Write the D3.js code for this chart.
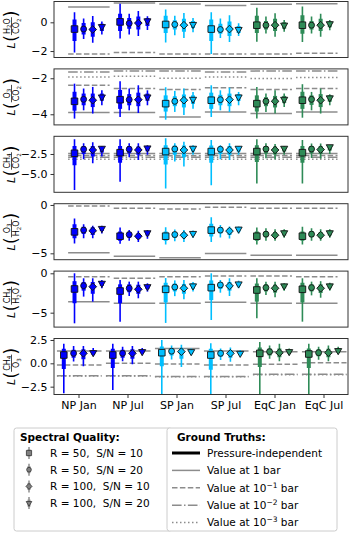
<!DOCTYPE html>
<html><head><meta charset="utf-8">
<script src="https://cdn.jsdelivr.net/npm/d3@7"></script>
<style>
body{margin:0;background:#fff;}
svg{display:block;font-family:"DejaVu Sans",sans-serif;}
</style></head><body>
<svg id="c" width="350" height="533"></svg>
<script>
// ---------------- DATA ----------------
const locations = ["NP Jan","NP Jul","SP Jan","SP Jul","EqC Jan","EqC Jul"];
const locColors = ["#0000ff","#0000ff","#00bfff","#00bfff","#2e8b57","#2e8b57"];
const qualityLabels = ["R = 50,  S/N = 10","R = 50,  S/N = 20","R = 100,  S/N = 10","R = 100,  S/N = 20"];
const qualityShapes = ["square","circle","diamond","triangle"];
const truthLabels = ["Pressure-independent","Value at 1 bar","Value at 10|−1| bar","Value at 10|−2| bar","Value at 10|−3| bar"];

// each marker: [outerLow, innerLow, median, innerHigh, outerHigh]
const r_H2O_CO2 = [
 [[-2.1,-1.3,-0.47,0.2,0.7],[-1.16,-0.85,-0.47,-0.05,0.26],[-1.42,-1.0,-0.5,0.0,0.44],[-0.84,-0.6,-0.3,-0.1,0.05]],
 [[-1.12,-0.6,0.03,0.6,1.3],[-0.84,-0.45,-0.07,0.3,0.6],[-0.95,-0.5,-0.05,0.4,0.78],[-0.53,-0.25,0.1,0.3,0.43]],
 [[-1.4,-0.75,-0.15,0.45,0.9],[-0.9,-0.5,-0.15,0.15,0.45],[-1.1,-0.65,-0.2,0.25,0.65],[-0.7,-0.4,-0.15,0.1,0.3]],
 [[-2.2,-1.3,-0.47,0.2,0.7],[-1.1,-0.8,-0.5,-0.1,0.26],[-1.37,-0.95,-0.47,0.05,0.5],[-0.95,-0.75,-0.5,-0.25,-0.07]],
 [[-1.35,-0.75,-0.2,0.45,1.02],[-0.77,-0.5,-0.2,0.1,0.4],[-1.0,-0.6,-0.2,0.25,0.63],[-0.65,-0.45,-0.2,0.0,0.16]],
 [[-1.37,-0.8,-0.2,0.5,1.1],[-0.77,-0.5,-0.2,0.1,0.4],[-1.0,-0.6,-0.2,0.25,0.6],[-0.55,-0.35,-0.1,0.05,0.16]]
];
const r_O3_CO2 = [
 [[-4.24,-3.8,-3.28,-2.75,-2.3],[-3.78,-3.5,-3.17,-2.85,-2.57],[-3.96,-3.6,-3.22,-2.85,-2.48],[-3.5,-3.25,-3.04,-2.85,-2.67]],
 [[-4.15,-3.7,-3.19,-2.65,-2.17],[-3.78,-3.5,-3.19,-2.88,-2.57],[-3.93,-3.55,-3.19,-2.8,-2.39],[-3.5,-3.25,-3.04,-2.85,-2.67]],
 [[-4.3,-3.85,-3.41,-2.95,-2.5],[-3.87,-3.55,-3.28,-3.0,-2.7],[-4.04,-3.62,-3.22,-2.9,-2.57],[-3.69,-3.42,-3.17,-2.95,-2.76]],
 [[-4.15,-3.7,-3.22,-2.8,-2.39],[-3.78,-3.5,-3.19,-2.92,-2.67],[-3.87,-3.55,-3.19,-2.85,-2.52],[-3.5,-3.25,-3.04,-2.88,-2.76]],
 [[-4.24,-3.85,-3.41,-2.95,-2.48],[-3.87,-3.55,-3.28,-3.05,-2.85],[-3.96,-3.62,-3.28,-2.98,-2.67],[-3.59,-3.38,-3.17,-2.98,-2.85]],
 [[-4.19,-3.7,-3.22,-2.75,-2.33],[-3.78,-3.48,-3.17,-2.95,-2.76],[-3.96,-3.6,-3.22,-2.88,-2.57],[-3.5,-3.3,-3.09,-2.95,-2.89]]
];
const r_CH4_CO2 = [
 [[-7.0,-3.9,-2.41,-1.5,-0.66],[-3.16,-2.5,-1.91,-1.5,-1.16],[-3.66,-2.8,-2.0,-1.5,-1.04],[-2.83,-2.3,-1.79,-1.6,-1.5]],
 [[-5.96,-3.6,-2.34,-1.5,-0.66],[-2.91,-2.4,-1.91,-1.5,-1.16],[-3.25,-2.6,-2.0,-1.55,-1.16],[-2.6,-2.15,-1.75,-1.55,-1.4]],
 [[-6.8,-3.8,-2.2,-1.4,-0.54],[-3.45,-2.6,-1.88,-1.45,-1.16],[-4.08,-2.9,-2.0,-1.45,-0.96],[-2.6,-2.2,-1.79,-1.55,-1.4]],
 [[-6.4,-3.6,-2.2,-1.45,-0.75],[-3.16,-2.5,-1.91,-1.6,-1.4],[-3.25,-2.6,-2.0,-1.5,-1.16],[-2.6,-2.2,-1.79,-1.6,-1.5]],
 [[-6.2,-3.5,-2.2,-1.4,-0.66],[-3.04,-2.45,-1.88,-1.5,-1.16],[-3.16,-2.55,-2.0,-1.55,-1.25],[-2.6,-2.2,-1.79,-1.6,-1.5]],
 [[-6.2,-3.6,-2.34,-1.5,-0.75],[-3.0,-2.4,-1.88,-1.5,-1.2],[-3.1,-2.5,-1.95,-1.5,-1.2],[-2.5,-2.05,-1.6,-1.45,-1.4]]
];
const r_O3_H2O = [
 [[-3.99,-3.45,-2.78,-2.0,-1.39],[-3.45,-3.0,-2.6,-2.25,-2.0],[-3.45,-3.1,-2.67,-2.3,-2.15],[-2.95,-2.7,-2.43,-2.25,-2.15]],
 [[-4.0,-3.7,-3.23,-2.75,-2.33],[-3.7,-3.4,-3.06,-2.8,-2.6],[-3.82,-3.5,-3.23,-2.95,-2.67],[-3.5,-3.15,-2.88,-2.7,-2.6]],
 [[-4.1,-3.7,-3.23,-2.75,-2.3],[-3.75,-3.4,-3.06,-2.8,-2.55],[-3.82,-3.45,-3.13,-2.85,-2.6],[-3.4,-3.15,-2.95,-2.78,-2.65]],
 [[-3.82,-3.25,-2.6,-1.95,-1.28],[-3.37,-2.95,-2.6,-2.3,-2.08],[-3.47,-3.1,-2.7,-2.4,-2.23],[-2.95,-2.75,-2.5,-2.33,-2.23]],
 [[-4.08,-3.7,-3.23,-2.75,-2.33],[-3.7,-3.35,-3.02,-2.7,-2.4],[-3.7,-3.4,-3.13,-2.8,-2.5],[-3.4,-3.15,-2.88,-2.65,-2.5]],
 [[-4.08,-3.7,-3.23,-2.75,-2.26],[-3.7,-3.35,-3.02,-2.7,-2.4],[-3.7,-3.4,-3.13,-2.8,-2.5],[-3.4,-3.15,-2.88,-2.65,-2.5]]
];
const r_CH4_H2O = [
 [[-6.35,-3.8,-1.99,-1.0,0.0],[-2.96,-2.2,-1.57,-1.1,-0.63],[-3.6,-2.6,-1.7,-1.1,-0.63],[-1.9,-1.6,-1.27,-1.0,-0.85]],
 [[-6.14,-3.8,-2.25,-1.4,-0.85],[-2.88,-2.4,-1.9,-1.4,-1.06],[-3.17,-2.6,-2.03,-1.45,-1.06],[-2.33,-2.0,-1.7,-1.45,-1.27]],
 [[-6.3,-3.7,-2.03,-1.2,-0.6],[-2.9,-2.3,-1.75,-1.3,-0.9],[-3.3,-2.6,-1.9,-1.35,-0.85],[-2.3,-1.95,-1.6,-1.3,-1.1]],
 [[-5.93,-3.4,-1.82,-0.9,0.0],[-2.46,-2.0,-1.48,-1.1,-0.85],[-2.88,-2.2,-1.6,-1.1,-0.63],[-1.9,-1.65,-1.35,-1.1,-0.93]],
 [[-5.71,-3.6,-2.12,-1.3,-0.63],[-2.75,-2.3,-1.82,-1.4,-1.06],[-3.03,-2.45,-1.9,-1.45,-1.06],[-2.2,-1.9,-1.6,-1.4,-1.27]],
 [[-6.14,-3.7,-2.03,-1.2,-0.63],[-2.8,-2.3,-1.82,-1.4,-1.06],[-3.1,-2.5,-1.9,-1.4,-1.0],[-2.2,-1.9,-1.6,-1.35,-1.2]]
];
const r_CH4_O3 = [
 [[-3.2,-0.6,0.89,1.55,2.1],[0.2,0.6,1.07,1.45,1.85],[-0.3,0.45,1.07,1.5,1.85],[0.85,0.95,1.14,1.4,1.64]],
 [[-2.86,-0.5,0.89,1.55,2.1],[0.21,0.6,1.07,1.45,1.78],[-0.11,0.5,1.07,1.5,1.85],[1.03,1.1,1.25,1.45,1.64]],
 [[-3.4,-0.3,1.14,1.8,2.5],[0.4,0.85,1.3,1.6,1.9],[-0.4,0.5,1.25,1.65,2.0],[0.9,1.05,1.25,1.45,1.6]],
 [[-3.5,-0.7,0.89,1.55,2.15],[0.36,0.7,1.07,1.35,1.6],[0.18,0.6,1.07,1.4,1.7],[0.89,0.95,1.07,1.25,1.43]],
 [[-3.4,-0.4,1.07,1.7,2.28],[0.5,0.85,1.25,1.6,1.92],[0.21,0.65,1.14,1.6,2.1],[0.93,1.05,1.25,1.45,1.6]],
 [[-3.4,-0.5,1.0,1.6,2.1],[0.39,0.75,1.14,1.5,1.78],[0.21,0.65,1.14,1.55,1.92],[1.07,1.15,1.36,1.55,1.78]]
];

// ground truths per location: value at 1 bar, 0.1 bar, 0.01 bar, 0.001 bar (null = not shown)
const gt_H2O_CO2 = {p1:[1.07,1.35,1.27,1.18,1.25,1.3], p01:[-2.2,-2.1,-2.2,-2.2,-2.2,-2.15], p001:[null,null,null,null,null,null], p0001:[null,null,null,null,null,null]};
const gt_O3_CO2  = {p1:[-3.9,-3.9,-4.15,-3.87,-3.96,-3.87], p01:[-2.39,-2.57,-2.63,-2.52,-2.63,-2.57], p001:[-1.65,-1.6,-1.6,-1.65,-1.6,-1.6], p0001:[-1.93,-1.89,-2.0,-1.93,-2.02,-1.96]};
const gt_CH4_CO2 = {p1:[-2.45,-2.45,-2.45,-2.45,-2.45,-2.45], p01:[-2.7,-2.7,-2.72,-2.7,-2.7,-2.7], p001:[-2.9,-2.9,-2.92,-2.9,-2.9,-2.9], p0001:[-3.15,-3.15,-3.17,-3.15,-3.15,-3.15]};
const gt_O3_H2O  = {p1:[-4.93,-5.3,-5.45,-5.03,-5.2,-5.2], p01:[-0.1,-0.35,-0.42,-0.24,-0.35,-0.35], p001:[null,null,null,null,null,null], p0001:[null,null,null,null,null,null]};
const gt_CH4_H2O = {p1:[-3.6,-3.8,-3.8,-3.68,-3.8,-3.8], p01:[-0.43,-0.63,-0.43,-0.34,-0.34,-0.43], p001:[null,null,null,null,null,null], p0001:[null,null,null,null,null,null]};
const gt_CH4_O3  = {p1:[1.32,1.32,1.6,1.32,1.25,1.25], p01:[-0.18,0.0,-0.07,-0.18,-0.1,0.07], p001:[-1.32,-1.32,-1.4,-1.4,-1.18,-1.18], p0001:[-1.36,-1.36,-1.44,-1.44,-1.22,-1.22]};

const ticks_H2O_CO2 = [-2,0];
const ticks_O3_CO2 = [-4,-2];
const ticks_CH4_CO2 = [-5,-2.5];
const ticks_O3_H2O = [-5,0];
const ticks_CH4_H2O = [-5,0];
const ticks_CH4_O3 = [-2.5,0,2.5];

// ---------------- LAYOUT ----------------
const plotLeft = 54, plotRight = 348;
const panelTop0 = 1.5, panelStep = 67.4, panelH = 56;
const qualityOffsets = [-0.3,-0.1,0.1,0.3];
const gtColor = "#8c8c8c";
const gtStyles = [
  {key:"p1", dash:null},
  {key:"p01", dash:"5.5,2.4"},
  {key:"p001", dash:"9.6,2.4,1.5,2.4"},
  {key:"p0001", dash:"1.5,2.5"}
];

const panels = [
 {data:r_H2O_CO2, gt:gt_H2O_CO2, ticks:ticks_H2O_CO2, dom:[-2.45,1.45], fmt:".0f", num:"H2O", den:"CO2", xdom:[-0.75,5.7]},
 {data:r_O3_CO2, gt:gt_O3_CO2, ticks:ticks_O3_CO2, dom:[-4.59,-1.48], fmt:".0f", num:"O3", den:"CO2", xdom:[-0.75,5.7]},
 {data:r_CH4_CO2, gt:gt_CH4_CO2, ticks:ticks_CH4_CO2, dom:[-7.29,-0.29], fmt:".1f", num:"CH4", den:"CO2", xdom:[-0.75,5.7]},
 {data:r_O3_H2O, gt:gt_O3_H2O, ticks:ticks_O3_H2O, dom:[-5.66,0.13], fmt:".0f", num:"O3", den:"H2O", xdom:[-0.75,5.7]},
 {data:r_CH4_H2O, gt:gt_CH4_H2O, ticks:ticks_CH4_H2O, dom:[-6.83,0.28], fmt:".0f", num:"CH4", den:"H2O", xdom:[-0.75,5.7]},
 {data:r_CH4_O3, gt:gt_CH4_O3, ticks:ticks_CH4_O3, dom:[-3.34,2.66], fmt:".1f", num:"CH4", den:"O3", xdom:[-0.5,5.5]}
];

const svg = d3.select("#c");
svg.append("rect").attr("width",350).attr("height",533).attr("fill","#fff");

function markerPath(shape, s){
  if(shape==="square") return d3.symbol(d3.symbolSquare, s*s)();
  if(shape==="circle") return d3.symbol(d3.symbolCircle, Math.PI*(s*0.45)*(s*0.45))();
  if(shape==="diamond") return d3.symbol(d3.symbolSquare, (s*0.82)*(s*0.82))();
  return d3.symbol(d3.symbolTriangle, s*s*0.5)();
}
function markerTransform(shape,x,y){
  if(shape==="diamond") return `translate(${x},${y}) rotate(45)`;
  if(shape==="triangle") return `translate(${x},${y}) rotate(180)`;
  return `translate(${x},${y})`;
}

function chemText(parent, formula, size, x, y){
  const t = parent.append("text").attr("font-size",size).attr("x",x).attr("y",y);
  let sub=false;
  for(const ch of formula){
    const isDigit = /\d/.test(ch);
    const ts = t.append("tspan").text(ch);
    if(isDigit && !sub){ ts.attr("font-size",size*0.7).attr("dy",size*0.22); sub=true; }
    else if(!isDigit && sub){ ts.attr("dy",-size*0.22); sub=false; }
    else if(isDigit){ ts.attr("font-size",size*0.7); }
  }
  return t;
}

panels.forEach((p,i)=>{
  const top = panelTop0 + i*panelStep, bot = top + panelH;
  const y = d3.scaleLinear().domain(p.dom).range([bot, top]);
  const x = d3.scaleLinear().domain(p.xdom).range([plotLeft, plotRight]);
  const clipId = "clip"+i;
  svg.append("clipPath").attr("id",clipId).append("rect")
    .attr("x",plotLeft).attr("y",top).attr("width",plotRight-plotLeft).attr("height",panelH);
  const g = svg.append("g").attr("clip-path",`url(#${clipId})`);

  gtStyles.forEach(st=>{
    p.gt[st.key].forEach((v,li)=>{
      if(v===null) return;
      const ln = g.append("line")
        .attr("x1",x(li-0.44)).attr("x2",x(li+0.47))
        .attr("y1",y(v)).attr("y2",y(v))
        .attr("stroke",gtColor).attr("stroke-width",1.5);
      if(st.dash) ln.attr("stroke-dasharray",st.dash);
    });
  });

  p.data.forEach((loc,li)=>{
    loc.forEach((q,qi)=>{
      const cx = x(li+qualityOffsets[qi]);
      const col = locColors[li];
      g.append("line").attr("x1",cx).attr("x2",cx).attr("y1",y(q[0])).attr("y2",y(q[4]))
        .attr("stroke",col).attr("stroke-width",1.6);
      g.append("line").attr("x1",cx).attr("x2",cx).attr("y1",y(q[1])).attr("y2",y(q[3]))
        .attr("stroke",col).attr("stroke-width",4);
      const shape = qualityShapes[qi];
      g.append("path").attr("d",markerPath(shape,6.6))
        .attr("transform",markerTransform(shape,cx,y(q[2])))
        .attr("fill",col).attr("stroke","#111").attr("stroke-width",0.9);
    });
  });

  svg.append("rect").attr("x",plotLeft).attr("y",top).attr("width",plotRight-plotLeft).attr("height",panelH)
    .attr("fill","none").attr("stroke","#333").attr("stroke-width",1);

  const ax = svg.append("g").attr("transform",`translate(${plotLeft},0)`)
    .call(d3.axisLeft(y).tickValues(p.ticks).tickFormat(d3.format(p.fmt)).tickSize(3.5).tickPadding(3));
  ax.select(".domain").remove();
  ax.selectAll("line").attr("stroke","#333");
  ax.selectAll("text").attr("font-size",11).attr("font-family","DejaVu Sans").attr("fill","#000");

  // y label  L( num / den )
  const cyL = (top+bot)/2, cxL = 11.5;
  const lg = svg.append("g").attr("transform",`translate(${cxL},${cyL}) rotate(-90)`);
  const L = lg.append("text").attr("font-size",11).attr("font-style","italic").text("L");
  const wL = L.node().getComputedTextLength();
  const lp = lg.append("text").attr("font-size",17).text("(");
  const wP = lp.node().getComputedTextLength();
  const nt = chemText(lg, p.num, 8, 0, -1.8);
  const dt = chemText(lg, p.den, 8, 0, 7.6);
  const wn = nt.node().getComputedTextLength(), wd = dt.node().getComputedTextLength();
  const wf = Math.max(wn,wd)+2;
  const total = wL+0.5+wP+wf+wP;
  const x0 = -total/2;
  L.attr("x",x0).attr("y",3.6);
  lp.attr("x",x0+wL+0.5).attr("y",5.6);
  const mid = x0+wL+0.5+wP+wf/2;
  nt.attr("x",mid-wn/2);
  dt.attr("x",mid-wd/2);
  lg.append("line").attr("x1",mid-wf/2).attr("x2",mid+wf/2).attr("y1",0).attr("y2",0)
    .attr("stroke","#000").attr("stroke-width",0.7);
  lg.append("text").attr("font-size",17).attr("x",x0+wL+0.5+wP+wf).attr("y",5.6).text(")");

  if(i===panels.length-1){
    const xa = svg.append("g").attr("transform",`translate(0,${bot})`)
      .call(d3.axisBottom(x).tickValues(d3.range(locations.length)).tickFormat(d=>locations[d]).tickSize(3.5).tickPadding(3.5));
    xa.select(".domain").remove();
    xa.selectAll("line").attr("stroke","#333");
    xa.selectAll("text").attr("font-size",11).attr("font-family","DejaVu Sans").attr("fill","#000");
  }
});

// ---------------- LEGENDS ----------------
const legTop = 428, legH = 103;
const lb = svg.append("g");
lb.append("rect").attr("x",14).attr("y",legTop).attr("width",158).attr("height",legH).attr("rx",2.5)
  .attr("fill","#fff").attr("stroke","#cccccc").attr("stroke-width",1);
lb.append("text").attr("x",20).attr("y",441).attr("font-size",10.5).attr("font-weight","bold").text("Spectral Quality:");
qualityLabels.forEach((t,k)=>{
  const yy = 453 + k*16.7;
  lb.append("line").attr("x1",29).attr("x2",29).attr("y1",yy-6).attr("y2",yy+6).attr("stroke","#8c8c8c").attr("stroke-width",1.5);
  lb.append("line").attr("x1",29).attr("x2",29).attr("y1",yy-3.5).attr("y2",yy+3.5).attr("stroke","#8c8c8c").attr("stroke-width",3);
  lb.append("path").attr("d",markerPath(qualityShapes[k],5.2)).attr("transform",markerTransform(qualityShapes[k],29,yy))
    .attr("fill","#808080").attr("stroke","#333").attr("stroke-width",0.8);
  lb.append("text").attr("x",50).attr("y",yy+3.8).attr("font-size",10.5).attr("xml:space","preserve").text(t);
});

const rb = svg.append("g");
rb.append("rect").attr("x",167).attr("y",legTop).attr("width",170).attr("height",legH).attr("rx",2.5)
  .attr("fill","#fff").attr("stroke","#cccccc").attr("stroke-width",1);
rb.append("text").attr("x",177).attr("y",441).attr("font-size",10.5).attr("font-weight","bold").text("Ground Truths:");
const truthDash = [null,null,"5.5,2.4","9.6,2.4,1.5,2.4","1.5,2.5"];
truthLabels.forEach((t,k)=>{
  const yy = 453 + k*17.4;
  const ln = rb.append("line").attr("x1",172).attr("x2",200).attr("y1",yy).attr("y2",yy)
    .attr("stroke",k===0?"#000":gtColor).attr("stroke-width",k===0?3:1.5);
  if(truthDash[k]) ln.attr("stroke-dasharray",truthDash[k]);
  const tx = rb.append("text").attr("x",207).attr("y",yy+3.8).attr("font-size",10.5);
  const parts = t.split("|");
  tx.append("tspan").text(parts[0]);
  if(parts.length>1){
    tx.append("tspan").attr("font-size",7.5).attr("dy",-4).text(parts[1]);
    tx.append("tspan").attr("dy",4).text(parts[2]);
  }
});
</script>
</body></html>
